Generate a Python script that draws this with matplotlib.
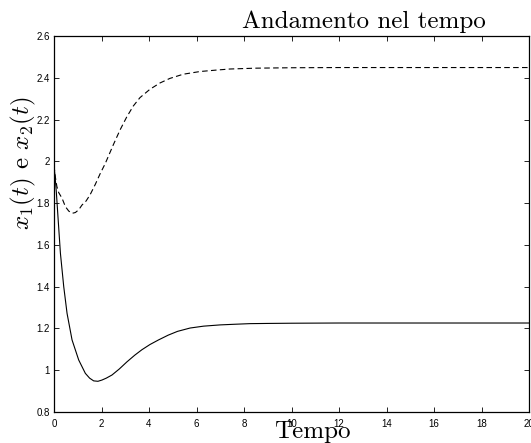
import matplotlib
matplotlib.use('Agg')
import matplotlib.pyplot as plt

plt.rcParams['mathtext.fontset'] = 'cm'

# time samples
t1 = [0, 0.05, 0.1, 0.17, 0.27, 0.41, 0.55, 0.76, 1.04, 1.32, 1.5, 1.67, 1.85, 2.02,
      2.2, 2.44, 2.75, 3.07, 3.4, 3.7, 4.04, 4.4, 4.81, 5.2, 5.73, 6.3, 7.0, 7.6, 8.25,
      9, 10, 12, 14, 16, 18, 20]
x1 = [1.98, 1.92, 1.85, 1.73, 1.56, 1.40, 1.272, 1.145, 1.049, 0.985, 0.962, 0.949,
      0.947, 0.953, 0.962, 0.977, 1.006, 1.04, 1.072, 1.098, 1.123, 1.145, 1.168, 1.186,
      1.202, 1.211, 1.217, 1.220, 1.223, 1.224, 1.225, 1.226, 1.226, 1.226, 1.226, 1.226]

t2 = [0, 0.05, 0.12, 0.2, 0.34, 0.48, 0.62, 0.76, 0.9, 1.04, 1.18, 1.35, 1.52, 1.74,
      1.94, 2.16, 2.5, 2.78, 3.06, 3.34, 3.62, 4.04, 4.46, 4.88, 5.44, 6.15, 6.85, 7.41,
      8.5, 10, 12, 14, 16, 18, 20]
x2 = [1.98, 1.93, 1.88, 1.85, 1.823, 1.783, 1.762, 1.751, 1.755, 1.768, 1.791, 1.81,
      1.84, 1.89, 1.94, 1.99, 2.08, 2.15, 2.212, 2.265, 2.305, 2.345, 2.375, 2.397,
      2.417, 2.43, 2.437, 2.442, 2.446, 2.448, 2.449, 2.449, 2.449, 2.449, 2.449]

xticks = list(range(0, 21, 2))
yticks = [0.8, 1.0, 1.2, 1.4, 1.6, 1.8, 2.0, 2.2, 2.4, 2.6]
ytick_labels = ['0.8', '1', '1.2', '1.4', '1.6', '1.8', '2', '2.2', '2.4', '2.6']

fig = plt.figure(figsize=(5.31, 4.43), dpi=100)
ax = fig.add_axes([54 / 531, 31 / 443, 475 / 531, 376 / 443])

ax.plot(t1, x1, color='black', lw=0.8)
ax.plot(t2, x2, color='black', lw=0.8, dashes=(5, 3))

ax.set_xlim(0, 20)
ax.set_ylim(0.8, 2.6)
ax.set_xticks(xticks)
ax.set_xticklabels([str(v) for v in xticks], family='Liberation Sans', fontsize=7)
ax.set_yticks(yticks)
ax.set_yticklabels(ytick_labels, family='Liberation Sans', fontsize=7)
ax.tick_params(direction='in', length=3.5, width=0.6, top=True, right=True, pad=3)
ax.tick_params(axis='x', pad=5)
for s in ax.spines.values():
    s.set_linewidth(0.9)

fig.text(364 / 531, (443 - 28) / 443, 'Andamento nel tempo', family='cmr10',
         fontsize=18, ha='center', va='baseline')
fig.text(312 / 531, (443 - 438) / 443, 'Tempo', family='cmr10',
         fontsize=18, ha='center', va='baseline')
fig.text(23 / 531, (443 - 163) / 443, r'$x_1(t)$ e $x_2(t)$', family='cmr10',
         fontsize=18, rotation=90, ha='center', va='center')

fig.savefig('out.png', dpi=100)
